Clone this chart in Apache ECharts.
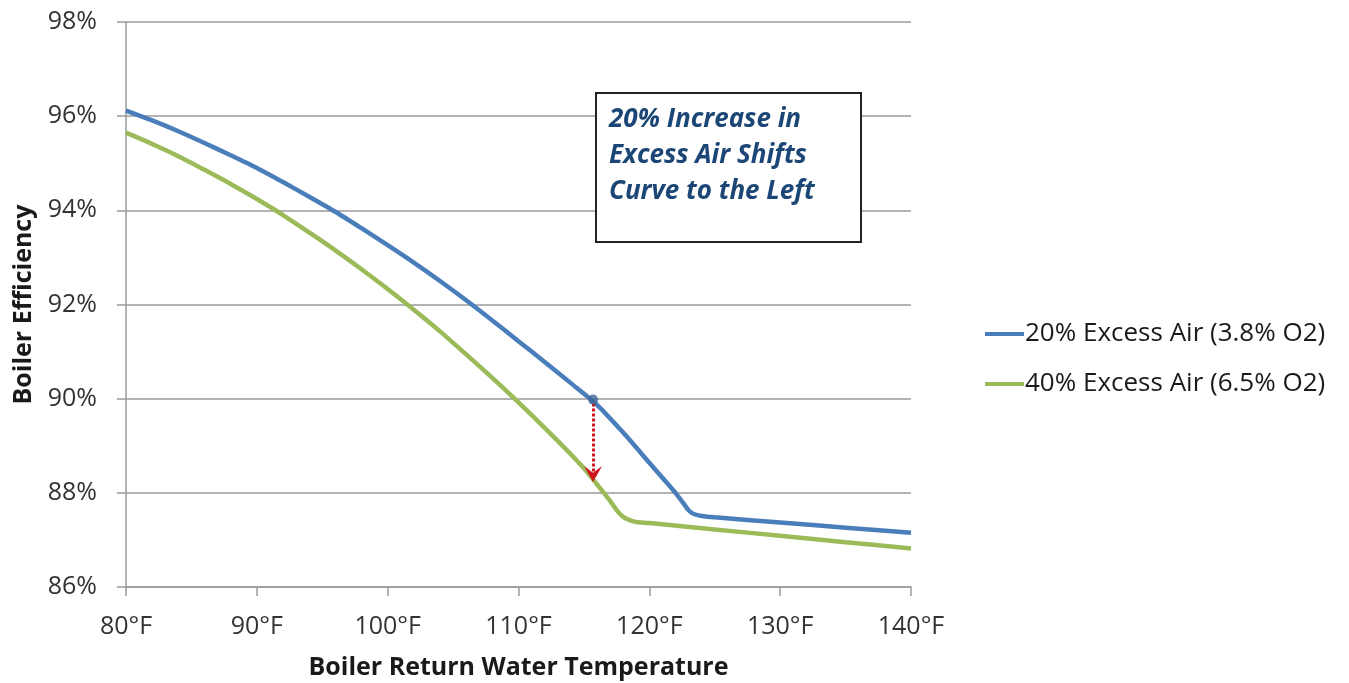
<!DOCTYPE html>
<html>
<head>
<meta charset="utf-8">
<script src="https://cdn.jsdelivr.net/npm/echarts@6/dist/echarts.min.js"></script>
<style>
html,body{margin:0;padding:0;background:#fff;}
#chart{width:1349px;height:683px;}
</style>
</head>
<body>
<div id="chart"></div>
<script>
// ---- data ----
const seriesNames = ['20% Excess Air (3.8% O2)', '40% Excess Air (6.5% O2)'];
const tempBlue = [80, 82, 84, 86, 88, 90, 92, 94, 96, 98, 100, 102, 104, 106, 108, 110, 112, 114, 116, 118, 120, 121, 122, 122.6, 123, 123.4, 124, 125, 130, 135, 140];
const effBlue  = [96.12, 95.91, 95.68, 95.43, 95.17, 94.90, 94.60, 94.29, 93.97, 93.62, 93.26, 92.89, 92.50, 92.09, 91.66, 91.22, 90.78, 90.33, 89.87, 89.28, 88.64, 88.32, 88.00, 87.78, 87.63, 87.55, 87.51, 87.48, 87.37, 87.26, 87.15];
const tempGreen = [80, 82, 84, 86, 88, 90, 92, 94, 96, 98, 100, 102, 104, 106, 108, 110, 112, 114, 115, 116, 117, 117.6, 118, 118.5, 119, 120, 125, 130, 135, 140];
const effGreen  = [95.65, 95.41, 95.15, 94.86, 94.56, 94.24, 93.90, 93.53, 93.15, 92.75, 92.33, 91.89, 91.43, 90.94, 90.44, 89.92, 89.38, 88.82, 88.52, 88.18, 87.83, 87.60, 87.49, 87.42, 87.38, 87.36, 87.22, 87.09, 86.95, 86.82];
const markerPoint = [115.7, 89.98];
const arrowFrom = [115.7, 89.9];
const arrowTo = [115.7, 88.4];
const xTicks = {min: 80, max: 140, step: 10};
const yTicks = {min: 86, max: 98, step: 2};
const annotationLines = ['20% Increase in', 'Excess Air Shifts', 'Curve to the Left'];

const FONT = '"Open Sans", "Liberation Sans", sans-serif';
const BLUE = '#4a7ebb', GREEN = '#9bbb59';

function pairs(xs, ys){ return xs.map((x,i)=>[x, ys[i]]); }

const chart = echarts.init(document.getElementById('chart'), null, {renderer:'canvas'});
chart.setOption({
  animation: false,
  backgroundColor: '#ffffff',
  textStyle: {fontFamily: FONT},
  grid: {left: 126, right: 438, top: 22, bottom: 96, containLabel: false, outerBoundsMode: 'none'},
  legend: {
    orient: 'vertical', left: 980, top: 314, itemGap: 20,
    itemWidth: 39, itemHeight: 4, icon: 'rect',
    textStyle: {fontFamily: FONT, fontSize: 26, lineHeight: 30, color: '#1a1a1a', padding: [0,0,0,-4]},
    data: seriesNames
  },
  xAxis: {
    type: 'value', min: xTicks.min, max: xTicks.max, interval: xTicks.step,
    name: 'Boiler Return Water Temperature', nameLocation: 'middle', nameGap: 68,
    nameTextStyle: {fontFamily: FONT, fontSize: 25, fontWeight: 'bold', color: '#1a1a1a'},
    axisLine: {show: true, lineStyle: {color: '#9a9a9a', width: 1.5}},
    axisTick: {show: true, length: 9, lineStyle: {color: '#9a9a9a', width: 1.5}},
    axisLabel: {margin: 27, fontSize: 25, color: '#333333', formatter: '{value}°F'},
    splitLine: {show: false}
  },
  yAxis: {
    type: 'value', min: yTicks.min, max: yTicks.max, interval: yTicks.step,
    name: 'Boiler Efficiency', nameLocation: 'middle', nameGap: 90,
    nameTextStyle: {fontFamily: FONT, fontSize: 25, fontWeight: 'bold', color: '#1a1a1a'},
    axisLine: {show: true, lineStyle: {color: '#9a9a9a', width: 1.5}},
    axisTick: {show: true, length: 9, lineStyle: {color: '#9a9a9a', width: 1.5}},
    axisLabel: {margin: 29, fontSize: 25, color: '#333333', formatter: '{value}%'},
    splitLine: {show: true, lineStyle: {color: '#9a9a9a', width: 1.5}}
  },
  series: [
    {
      name: seriesNames[0], type: 'line', data: pairs(tempBlue, effBlue),
      showSymbol: false, symbol: 'none', smooth: 0.25,
      lineStyle: {color: BLUE, width: 4.5}, itemStyle: {color: BLUE}, z: 3,
      markLine: {
        silent: true, symbol: ['none', 'path://M0,12 L7,0 L14,12 L7,7 Z'], symbolSize: [18, 16],
        label: {show: false},
        lineStyle: {color: '#d0141c', type: [3, 2], width: 3},
        data: [[{coord: arrowFrom}, {coord: arrowTo}]]
      }
    },
    {
      name: seriesNames[1], type: 'line', data: pairs(tempGreen, effGreen),
      showSymbol: false, symbol: 'none', smooth: 0.25,
      lineStyle: {color: GREEN, width: 4.5}, itemStyle: {color: GREEN}, z: 2
    },
    {
      name: 'point', type: 'scatter', data: [markerPoint], symbolSize: 10,
      itemStyle: {color: '#3d6597'}, z: 5, silent: true
    }
  ],
  graphic: [
    {
      type: 'rect', left: 595, top: 92, z: 100,
      shape: {width: 265, height: 149},
      style: {fill: '#ffffff', stroke: '#222222', lineWidth: 2}
    },
    {
      type: 'text', left: 609, top: 102, z: 101,
      style: {
        text: annotationLines.join('\n'),
        font: 'italic bold 26px ' + FONT,
        lineHeight: 36, fill: '#1b4675'
      }
    }
  ]
});
</script>
</body>
</html>
